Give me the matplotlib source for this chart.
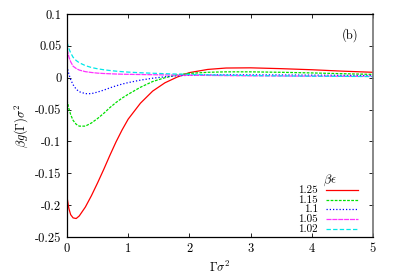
import numpy as np
import matplotlib
matplotlib.use("Agg")
import matplotlib.pyplot as plt

plt.rcParams['font.family'] = 'serif'
plt.rcParams['font.serif'] = ['cmr10']
plt.rcParams['mathtext.fontset'] = 'cm'
plt.rcParams['axes.unicode_minus'] = False

# data
gamma = [0, 0.03, 0.06, 0.1, 0.15, 0.2, 0.3, 0.4, 0.5, 0.6, 0.7, 0.8, 0.9, 1.0,
         1.2, 1.4, 1.6, 1.8, 2.0, 2.3, 2.6, 3.0, 3.5, 4.0, 4.5, 5.0]

g_125 = [-0.187, -0.205, -0.215, -0.220, -0.221, -0.217, -0.203, -0.185, -0.165,
         -0.144, -0.122, -0.101, -0.082, -0.065, -0.040, -0.021, -0.008, 0.001,
         0.008, 0.013, 0.0152, 0.0155, 0.0142, 0.0125, 0.0103, 0.0085]
g_115 = [-0.035, -0.048, -0.058, -0.067, -0.073, -0.076, -0.076, -0.071, -0.064,
         -0.056, -0.047, -0.039, -0.032, -0.026, -0.015, -0.006, 0.000, 0.0045,
         0.0068, 0.0085, 0.0092, 0.0092, 0.0085, 0.0075, 0.0063, 0.0052]
g_110 = [0.018, 0.006, -0.003, -0.011, -0.018, -0.022, -0.025, -0.025, -0.0225,
         -0.0195, -0.016, -0.0128, -0.010, -0.0077, -0.0038, -0.0008, 0.0015,
         0.003, 0.0038, 0.0043, 0.0045, 0.0045, 0.0043, 0.004, 0.0037, 0.0033]
g_105 = [0.045, 0.033, 0.025, 0.018, 0.0145, 0.012, 0.0095, 0.0082, 0.0072,
         0.0066, 0.0062, 0.0058, 0.0055, 0.0053, 0.005, 0.0047, 0.0044, 0.0041,
         0.0039, 0.0036, 0.0033, 0.003, 0.0027, 0.0024, 0.0022, 0.002]
g_102 = [0.056, 0.046, 0.039, 0.032, 0.027, 0.0235, 0.019, 0.016, 0.014,
         0.0125, 0.0113, 0.0103, 0.0095, 0.0088, 0.0078, 0.007, 0.0063, 0.0057,
         0.0052, 0.0045, 0.004, 0.0034, 0.0029, 0.0024, 0.0021, 0.0018]

labels = ['1.25', '1.15', '1.1', '1.05', '1.02']
curves = [g_125, g_115, g_110, g_105, g_102]
colors = ['#ff0000', '#00e000', '#0000ff', '#ff33ff', '#00e8e8']
dashes = ['-', (0, (2.2, 1.1)), (0, (1.0, 1.6)), (0, (4.0, 0.7)), (0, (3.5, 1.8))]

xticks = [0, 1, 2, 3, 4, 5]
yticks = [-0.25, -0.2, -0.15, -0.1, -0.05, 0, 0.05, 0.1]
ytick_labels = ['-0.25', '-0.2', '-0.15', '-0.1', '-0.05', '0', '0.05', '0.1']

fig = plt.figure(figsize=(3.95, 2.76), dpi=100)
ax = fig.add_axes([0.1696, 0.1413, 0.7747, 0.808])

for i in range(len(curves)):
    ax.plot(gamma, curves[i], color=colors[i], linestyle=dashes[i], lw=0.9)

ax.set_xlim(0, 5)
ax.set_ylim(-0.25, 0.1)
ax.set_xticks(xticks)
ax.set_xticklabels([str(t) for t in xticks], fontsize=9)
ax.set_yticks(yticks)
ax.set_yticklabels(ytick_labels, fontsize=9)
ax.tick_params(direction='in', which='both', top=True, right=True, length=3,
               width=0.6, pad=4)
for s in ['left', 'top', 'bottom']:
    ax.spines[s].set_linewidth(0.9)
ax.spines['right'].set_color('0.45')
ax.spines['right'].set_linewidth(1.2)

ax.set_xlabel(r'$\Gamma\sigma^2$', fontsize=9, labelpad=4)
ax.set_ylabel(r'$\beta g(\Gamma)\sigma^2$', fontsize=9, labelpad=4)

ax.text(0.925, 0.906, '(b)', transform=ax.transAxes, fontsize=9,
        ha='center', va='center')

# gnuplot style key
ax.text(0.837, 0.256, r'$\beta\epsilon$', transform=ax.transAxes, fontsize=9,
        ha='left', va='center')
rows = [0.211, 0.167, 0.124, 0.081, 0.037]
for i in range(len(labels)):
    ax.text(0.820, rows[i], labels[i], transform=ax.transAxes, fontsize=8,
            ha='right', va='center')
    ax.plot([0.846, 0.951], [rows[i], rows[i]], transform=ax.transAxes,
            color=colors[i], linestyle=dashes[i], lw=0.9)

fig.savefig('out.png', dpi=100)
